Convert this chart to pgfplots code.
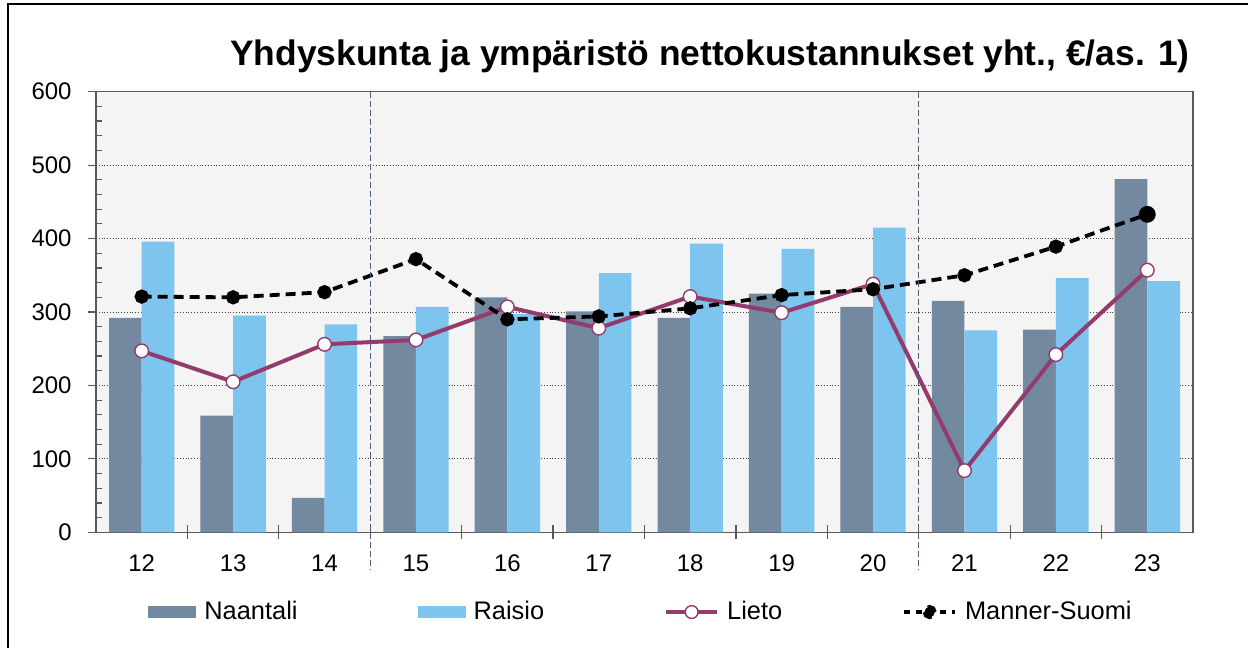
\documentclass[border=0pt]{standalone}
\usepackage{fontspec}
\setmainfont{Liberation Sans}
\usepackage{pgfplots}
\pgfplotsset{compat=1.18}
\definecolor{naantali}{HTML}{7289A0}
\definecolor{raisio}{HTML}{7DC5EE}
\definecolor{lieto}{HTML}{943B6E}
\definecolor{plotbg}{HTML}{F4F4F4}
\definecolor{axisgray}{HTML}{595959}
\definecolor{sepline}{HTML}{4A6178}
\begin{document}
\begin{tikzpicture}
\useasboundingbox (-48pt,-57.85pt) rectangle (576pt,266.15pt);
\draw[black, line width=0.9pt] (-44pt,-60pt) -- (-44pt,264.15pt) -- (580pt,264.15pt);
\node[anchor=base east, inner sep=0pt, font=\fontsize{17.7}{21}\selectfont\bfseries] at (547pt,233.15pt) {Yhdyskunta ja ympäristö nettokustannukset yht., €/as. 1)};
\begin{axis}[
  at={(0pt,0pt)}, anchor=south west,
  scale only axis, width=548.5pt, height=220.3pt,
  xmin=-0.5, xmax=11.5, ymin=0, ymax=600,
  axis background/.style={fill=plotbg},
  axis line style={axisgray, line width=0.6pt},
  tick pos=left,
  xtick={0,...,11},
  xticklabels={12,13,14,15,16,17,18,19,20,21,22,23},
  major x tick style={draw=none},
  extra x ticks={0.5,1.5,...,10.5},
  extra x tick labels={},
  extra x tick style={tick align=center, major tick length=7pt, major x tick style={draw=axisgray, line width=0.6pt}, grid=none},
  ytick={0,100,...,600},
  minor y tick num=4,
  tick align=outside,
  major tick length=4pt,
  minor tick length=3pt,
  tick style={axisgray, line width=0.6pt},
  minor y tick style={xshift=3pt},
  ymajorgrids,
  major grid style={densely dotted, black!75, line width=0.5pt},
  /pgf/number format/assume math mode=true,
  y tick label style={font=\fontsize{12}{14}\selectfont, inner sep=0pt},
  x tick label style={font=\fontsize{12}{14}\selectfont, inner sep=0pt},
  yticklabel shift=8pt,
  xticklabel shift=7pt,
  clip=false,
  legend style={draw=none, fill=none, at={(0.0474,-0.181)}, anchor=west,
    font=\fontsize{12.7}{15}\selectfont, inner sep=0pt,
    nodes={inner sep=0pt},
    /tikz/every even column/.append style={column sep=60pt},
    /tikz/every odd column/.append style={column sep=4pt}},
  legend columns=4,
]
\addplot[ybar, bar width=16.35pt, bar shift=-8.175pt, fill=naantali, draw=none,
  legend image code/.code={\fill[naantali] (0pt,-3pt) rectangle (24pt,3pt);}]
  coordinates {(0,292) (1,159) (2,47) (3,267) (4,320) (5,301) (6,292) (7,325) (8,307) (9,315) (10,276) (11,481)};
\addlegendentry{Naantali}
\addplot[ybar, bar width=16.35pt, bar shift=8.175pt, fill=raisio, draw=none,
  legend image code/.code={\fill[raisio] (0pt,-3pt) rectangle (24pt,3pt);}]
  coordinates {(0,396) (1,295) (2,283) (3,307) (4,297) (5,353) (6,393) (7,386) (8,415) (9,275) (10,346) (11,342)};
\addlegendentry{Raisio}
\addplot[lieto, line width=2pt, mark=*, mark size=3.4pt, mark options={fill=white, draw=lieto, line width=0.7pt},
  legend image code/.code={\draw[lieto, line width=2pt] (0pt,0pt) -- (25.5pt,0pt);
    \filldraw[fill=white, draw=lieto, line width=0.7pt] (12.75pt,0pt) circle (3.2pt);}]
  coordinates {(0,247) (1,205) (2,256) (3,262) (4,307) (5,278) (6,321) (7,299) (8,338) (9,84) (10,242) (11,357)};
\addlegendentry{Lieto}
\addplot[black, line width=1.9pt, dash pattern=on 5pt off 3pt, mark=*, mark size=2.6pt, mark options={solid},
  legend image code/.code={\draw[black, line width=1.9pt, dash pattern=on 3pt off 3pt] (0pt,0pt) -- (25.5pt,0pt);
    \fill[black] (12.75pt,0pt) circle (2.6pt);}]
  coordinates {(0,321) (1,320) (2,327) (3,372) (4,290) (5,294) (6,305) (7,323) (8,331) (9,350) (10,389) (11,433)};
\addlegendentry{Manner-Suomi}
\addplot[only marks, mark=*, mark size=4pt, black, forget plot] coordinates {(11,433)};
\draw[sepline, line width=0.7pt, dash pattern=on 3pt off 1.5pt] (axis cs:2.5,600) -- (axis cs:2.5,-51);
\draw[sepline, line width=0.7pt, dash pattern=on 3pt off 1.5pt] (axis cs:8.5,600) -- (axis cs:8.5,-51);
\end{axis}
\end{tikzpicture}
\end{document}
